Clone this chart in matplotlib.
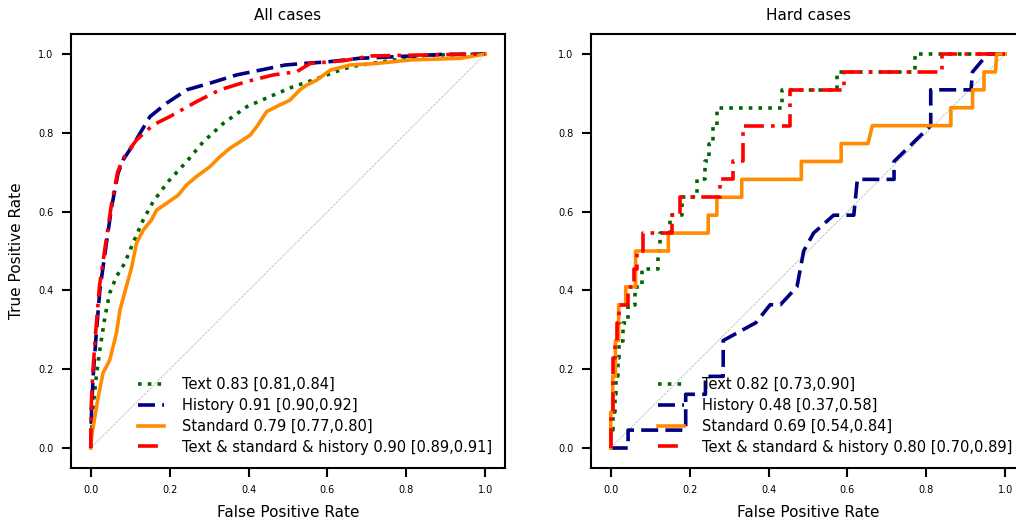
import numpy as np
import matplotlib.pyplot as plt

# ROC curves, all cases vs hard cases

# ---- All cases ----
all_text_fpr = [0.0, 0.006, 0.014, 0.023, 0.036, 0.048, 0.065, 0.086, 0.107, 0.133, 0.158, 0.196,
                0.243, 0.285, 0.336, 0.395, 0.454, 0.513, 0.564, 0.62, 0.66, 0.77, 0.85, 1.0]
all_text_tpr = [0.0, 0.105, 0.181, 0.249, 0.333, 0.393, 0.435, 0.469, 0.52, 0.579, 0.625, 0.676,
                0.727, 0.777, 0.824, 0.866, 0.892, 0.917, 0.934, 0.955, 0.968, 0.985, 0.997, 1.0]

all_hist_fpr = [0.0, 0.002, 0.006, 0.014, 0.023, 0.036, 0.053, 0.069, 0.082, 0.112, 0.15, 0.192,
                0.243, 0.302, 0.37, 0.429, 0.492, 0.539, 0.6, 0.68, 0.77, 0.89, 1.0]
all_hist_tpr = [0.0, 0.096, 0.181, 0.29, 0.40, 0.494, 0.612, 0.697, 0.731, 0.777, 0.841, 0.875,
                0.909, 0.926, 0.947, 0.959, 0.972, 0.976, 0.98, 0.989, 0.993, 0.999, 1.0]

all_std_fpr = [0.0, 0.002, 0.019, 0.031, 0.048, 0.065, 0.074, 0.09, 0.103, 0.116, 0.133, 0.154,
               0.167, 0.192, 0.222, 0.243, 0.268, 0.302, 0.327, 0.353, 0.378, 0.404, 0.421, 0.446,
               0.48, 0.505, 0.53, 0.547, 0.573, 0.607, 0.657, 0.725, 0.81, 0.937, 1.0]
all_std_tpr = [0.0, 0.029, 0.13, 0.19, 0.223, 0.291, 0.35, 0.409, 0.456, 0.52, 0.553, 0.579,
               0.604, 0.621, 0.642, 0.668, 0.689, 0.714, 0.739, 0.761, 0.777, 0.794, 0.816, 0.854,
               0.871, 0.883, 0.909, 0.921, 0.934, 0.959, 0.972, 0.976, 0.985, 0.989, 1.0]

all_comb_fpr = [0.0, 0.001, 0.005, 0.013, 0.022, 0.035, 0.052, 0.068, 0.082, 0.116, 0.158, 0.2,
                0.268, 0.327, 0.395, 0.463, 0.522, 0.556, 0.64, 0.71, 0.81, 1.0]
all_comb_tpr = [0.0, 0.1, 0.19, 0.3, 0.41, 0.5, 0.615, 0.7, 0.735, 0.782, 0.82, 0.841,
                0.879, 0.909, 0.93, 0.947, 0.955, 0.976, 0.983, 0.995, 0.997, 1.0]

# ---- Hard cases: 22 positives, TPR given as count of positives ----
n_pos = 22
hard_text_fpr = [0.0, 0.0, 0.005, 0.005, 0.01, 0.01, 0.013, 0.013, 0.018, 0.018, 0.022, 0.022,
                 0.03, 0.03, 0.044, 0.044, 0.061, 0.061, 0.078, 0.078, 0.12, 0.12, 0.125, 0.125,
                 0.15, 0.15, 0.18, 0.18, 0.218, 0.218, 0.24, 0.24, 0.25, 0.25, 0.26, 0.26,
                 0.27, 0.27, 0.434, 0.434, 0.574, 0.574, 0.77, 0.77, 1.0]
hard_text_k = [0, 1, 1, 2, 2, 3, 3, 4, 4, 5, 5, 6,
               6, 7, 7, 8, 8, 9, 9, 10, 10, 11, 11, 12,
               12, 13, 13, 14, 14, 15, 15, 16, 16, 17, 17, 18,
               18, 19, 19, 20, 20, 21, 21, 22, 22]

hard_hist_fpr = [0.0, 0.044, 0.044, 0.19, 0.19, 0.24, 0.24, 0.285, 0.285, 0.368, 0.404, 0.43,
                 0.472, 0.489, 0.514, 0.565, 0.616, 0.625, 0.718, 0.718, 0.811, 0.811, 0.913,
                 0.917, 0.955, 1.0]
hard_hist_k = [0, 0, 1, 1, 3, 3, 4, 4, 6, 7, 8, 8,
               9, 11, 12, 13, 13, 15, 15, 16, 18, 20, 20,
               21, 22, 22]

hard_std_fpr = [0.0, 0.0, 0.005, 0.005, 0.012, 0.012, 0.02, 0.02, 0.038, 0.038, 0.063, 0.063,
                0.146, 0.146, 0.247, 0.247, 0.269, 0.269, 0.332, 0.332, 0.483, 0.483, 0.584, 0.584,
                0.652, 0.663, 0.862, 0.862, 0.917, 0.917, 0.946, 0.946, 0.975, 0.978, 1.0]
hard_std_k = [0, 2, 2, 4, 4, 6, 6, 8, 8, 9, 9, 11,
              11, 12, 12, 13, 13, 14, 14, 15, 15, 16, 16, 17,
              17, 18, 18, 19, 19, 20, 20, 21, 21, 22, 22]

hard_comb_fpr = [0.0, 0.0, 0.005, 0.005, 0.01, 0.01, 0.015, 0.015, 0.02, 0.02, 0.044, 0.044,
                 0.058, 0.058, 0.067, 0.067, 0.081, 0.081, 0.155, 0.155, 0.175, 0.175, 0.277, 0.277,
                 0.309, 0.309, 0.335, 0.335, 0.455, 0.455, 0.59, 0.59, 0.84, 0.84, 1.0]
hard_comb_k = [0, 2, 2, 5, 5, 6, 6, 7, 7, 8, 8, 9,
               9, 10, 10, 11, 11, 12, 12, 13, 13, 14, 14, 15,
               15, 16, 16, 18, 18, 20, 20, 21, 21, 22, 22]

labels_all = ['Text 0.83 [0.81,0.84]', 'History 0.91 [0.90,0.92]',
              'Standard 0.79 [0.77,0.80]', 'Text & standard & history 0.90 [0.89,0.91]']
labels_hard = ['Text 0.82 [0.73,0.90]', 'History 0.48 [0.37,0.58]',
               'Standard 0.69 [0.54,0.84]', 'Text & standard & history 0.80 [0.70,0.89]']

colors = ['darkgreen', 'navy', 'darkorange', 'red']
styles = [(0, (1, 1.7)), (0, (4.7, 2)), '-', (0, (5.5, 2, 1, 2))]

fig = plt.figure(figsize=(10.16, 5.27), dpi=100)
ax1 = fig.add_axes([0.0699, 0.1125, 0.4272, 0.8224])
ax2 = fig.add_axes([0.5817, 0.1125, 0.4272, 0.8224])

curves_all = [(all_text_fpr, all_text_tpr), (all_hist_fpr, all_hist_tpr),
              (all_std_fpr, all_std_tpr), (all_comb_fpr, all_comb_tpr)]
curves_hard = [(hard_text_fpr, np.array(hard_text_k) / n_pos),
               (hard_hist_fpr, np.array(hard_hist_k) / n_pos),
               (hard_std_fpr, np.array(hard_std_k) / n_pos),
               (hard_comb_fpr, np.array(hard_comb_k) / n_pos)]

for ax, curves, labels, title in [(ax1, curves_all, labels_all, 'All cases'),
                                  (ax2, curves_hard, labels_hard, 'Hard cases')]:
    ax.plot([0, 1], [0, 1], color='gray', lw=0.6, ls=':')
    for (fpr, tpr), lab, c, ls in zip(curves, labels, colors, styles):
        ax.plot(fpr, tpr, color=c, ls=ls, lw=2.6, label=lab)
    ax.set_xlim(-0.05, 1.05)
    ax.set_ylim(-0.05, 1.05)
    ax.set_xticks([0, 0.2, 0.4, 0.6, 0.8, 1.0])
    ax.set_yticks([0, 0.2, 0.4, 0.6, 0.8, 1.0])
    ax.tick_params(labelsize=7, length=6.5, width=1.5, pad=6)
    for sp in ax.spines.values():
        sp.set_linewidth(1.5)
    ax.set_xlabel('False Positive Rate', fontsize=11, labelpad=7)
    ax.set_title(title, fontsize=11, pad=10)
    ax.legend(loc='lower right', frameon=False, fontsize=10.5, handlelength=1.8,
              handletextpad=1.2, labelspacing=0.4)

ax1.set_ylabel('True Positive Rate', fontsize=11, labelpad=10)

fig.savefig('out.png', dpi=100)
